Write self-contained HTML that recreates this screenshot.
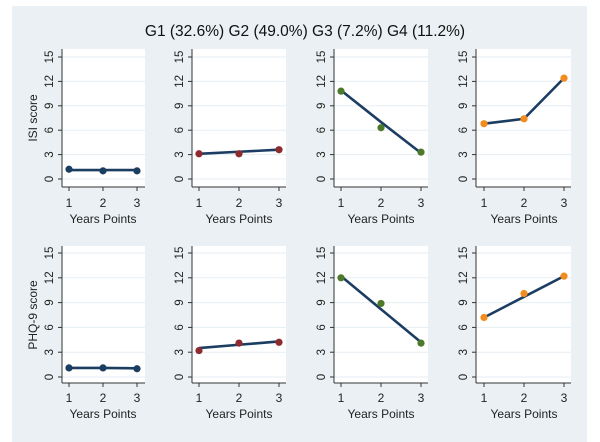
<!DOCTYPE html>
<html><head><meta charset="utf-8"><style>
body{margin:0;background:#fff;}
svg{display:block;font-family:"Liberation Sans",Arial,sans-serif;}
</style></head><body>
<svg id="s" width="600" height="442" viewBox="0 0 600 442" xmlns="http://www.w3.org/2000/svg">
<rect x="12" y="6" width="575" height="436" fill="#eaf0f3"/>
<text x="305" y="36" text-anchor="middle" font-size="15.5" fill="#111" font-family="Liberation Sans,Calibri,sans-serif">G1 (32.6%) G2 (49.0%) G3 (7.2%) G4 (11.2%)</text>
<text transform="translate(37,118) rotate(-90)" text-anchor="middle" font-size="12" fill="#222">ISI score</text>
<text transform="translate(37,315) rotate(-90)" text-anchor="middle" font-size="12" fill="#222">PHQ-9 score</text>
</svg>
<script>
var s=document.getElementById('s'),NS='http://www.w3.org/2000/svg';
function el(t,a,txt){var e=document.createElementNS(NS,t);for(var k in a)e.setAttribute(k,a[k]);if(txt!=null)e.textContent=txt;s.appendChild(e);return e;}
var cols=[{l:62,r:145,x1:69,x3:137},{l:192,r:286,x1:199,x3:279},{l:334,r:428,x1:341,x3:421},{l:476,r:571,x1:484,x3:564}];
var rows=[{t:49,b:187,y0:179,y15:57,tl:203,xl:219},{t:246,b:383,y0:377,y15:253,tl:398,xl:414}];
var mc=['#1c3d62','#8e2b2f','#4d7a2a','#f28c1e'];
var pts=[[[1.2,1.0,1.0],[3.1,3.1,3.6],[10.8,6.3,3.3],[6.8,7.4,12.4]],[[1.1,1.1,1.0],[3.2,4.1,4.2],[12.0,8.9,4.1],[7.2,10.1,12.2]]];
var lines=[[[1.1,1.1,1.1],[3.1,3.35,3.6],[10.9,7.0,3.2],[6.8,7.4,12.4]],[[1.1,1.1,1.05],[3.5,3.9,4.3],[12.2,8.2,4.2],[7.2,9.7,12.2]]];
rows.forEach(function(R,ri){cols.forEach(function(C,ci){
 el('rect',{x:C.l,y:R.t,width:C.r-C.l,height:R.b-R.t,fill:'#fff'});
 function Y(v){return R.y0-(R.y0-R.y15)*v/15;}
 function X(i){return C.x1+(C.x3-C.x1)*i/2;}
 for(var v=0;v<=15;v+=3){var y=Y(v);
  el('line',{x1:C.l,x2:C.r,y1:y,y2:y,stroke:'#e6eef2','stroke-width':1});
  el('line',{x1:C.l-4,x2:C.l,y1:y,y2:y,stroke:'#333','stroke-width':1});
  el('text',{transform:'translate('+(C.l-9)+','+y+') rotate(-90)','text-anchor':'middle','font-size':'11.5',fill:'#222'},String(v));}
 el('line',{x1:C.l,x2:C.l,y1:R.t,y2:R.b,stroke:'#333','stroke-width':1});
 el('line',{x1:C.l,x2:C.r,y1:R.b,y2:R.b,stroke:'#333','stroke-width':1});
 for(var i=0;i<3;i++){el('line',{x1:X(i),x2:X(i),y1:R.b,y2:R.b+4,stroke:'#333'});
  el('text',{x:X(i),y:R.tl+4,'text-anchor':'middle','font-size':'12',fill:'#222'},String(i+1));}
 el('text',{x:(C.x1+C.x3)/2,y:R.xl+4,'text-anchor':'middle','font-size':'12',fill:'#222'},'Years Points');
 var L=lines[ri][ci],P=pts[ri][ci];
 var bpath=[0,1,2].map(function(i){return X(i)+','+Y(L[i]);}).join(' ');
 el('polyline',{points:bpath,fill:'none',stroke:'#1c3d62','stroke-width':2.6});
 for(var i=0;i<3;i++)el('circle',{cx:X(i),cy:Y(P[i]),r:3.6,fill:mc[ci]});
});});
</script>
</body></html>
